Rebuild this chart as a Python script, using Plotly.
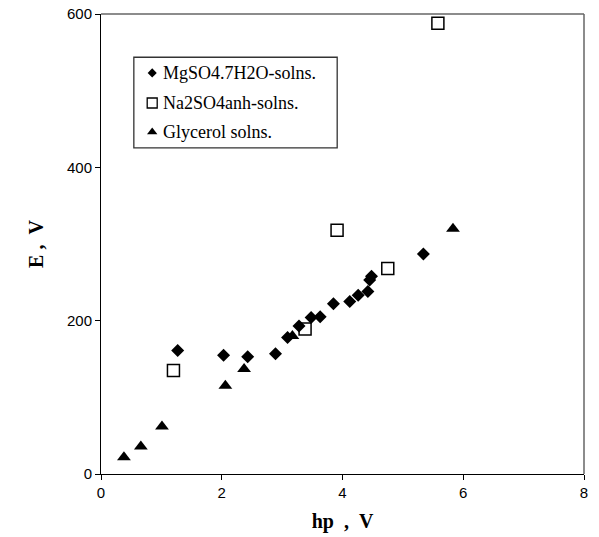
import plotly.graph_objects as go

# hp (V) and E (V) for each solution series
mg_hp = [1.27, 2.03, 2.43, 2.89, 3.09, 3.28, 3.48, 3.63, 3.85, 4.12, 4.26, 4.42, 4.45, 4.48, 5.34]
mg_e = [161, 155, 153, 157, 178, 193, 204, 205, 222, 225, 233, 238, 253, 258, 287]

na_hp = [1.20, 3.38, 3.91, 4.75, 5.58]
na_e = [135, 189, 318, 268, 588]

gly_hp = [0.38, 0.66, 1.01, 2.06, 2.37, 3.17, 5.83]
gly_e = [22, 36, 62, 115, 137, 180, 320]

series_names = ["MgSO4.7H2O-solns.", "Na2SO4anh-solns.", "Glycerol solns."]

x_ticks = [0, 2, 4, 6, 8]
y_ticks = [0, 200, 400, 600]

SERIF = "Liberation Serif, Times New Roman, serif"
SANS = "Liberation Sans, Arial, sans-serif"
NB = "\u00a0"

styles = [
    dict(symbol="diamond", size=10, color="black"),
    dict(symbol="square-open", size=12, color="black", line=dict(width=1.5, color="black")),
    dict(symbol="triangle-up", size=12, color="black"),
]
legend_styles = [
    dict(symbol="diamond", size=7, color="black"),
    dict(symbol="square-open", size=10, color="black", line=dict(width=1.3, color="black")),
    dict(symbol="triangle-up", size=9, color="black"),
]

fig = go.Figure()
for name, xs, ys, st in zip(series_names, [mg_hp, na_hp, gly_hp], [mg_e, na_e, gly_e], styles):
    fig.add_trace(go.Scatter(x=xs, y=ys, mode="markers", name=name,
                             marker=st, showlegend=False))

# boxed key drawn on an overlay axis spanning the plotting area (0..1 both ways)
key_x0, key_x1, key_y0, key_y1 = 0.068, 0.489, 0.709, 0.906
key_sym_x, key_text_x = 0.106, 0.124
key_rows = [0.872, 0.8065, 0.7435]
for name, row, st in zip(series_names, key_rows, legend_styles):
    fig.add_trace(go.Scatter(x=[key_sym_x], y=[row], mode="markers", marker=st,
                             xaxis="x2", yaxis="y2", showlegend=False, hoverinfo="skip"))
    fig.add_annotation(x=key_text_x, y=row, xref="x2", yref="y2", text=name,
                       showarrow=False, xanchor="left", yanchor="middle",
                       font=dict(family=SERIF, size=18, color="black"))
fig.add_shape(type="rect", xref="x2", yref="y2", x0=key_x0, x1=key_x1, y0=key_y0, y1=key_y1,
              line=dict(color="#333333", width=1.3), layer="below")

axis_common = dict(
    showgrid=False, zeroline=False, showline=True, linecolor="black", linewidth=1,
    ticks="outside", ticklen=5, tickcolor="black", tickwidth=1, automargin=False,
    tickfont=dict(family=SANS, size=15, color="black"),
)

fig.update_layout(
    width=599, height=537,
    margin=dict(l=101, r=15, t=14, b=63),
    paper_bgcolor="white", plot_bgcolor="white",
    showlegend=False,
    xaxis=dict(
        range=[0, 8], tickvals=x_ticks,
        title=dict(text=f"<b>hp{NB}{NB},{NB}{NB}V</b>", standoff=13,
                   font=dict(family=SERIF, size=20, color="black")),
        **axis_common,
    ),
    yaxis=dict(
        range=[0, 600], tickvals=y_ticks,
        title=dict(text=f"<b>E{NB},{NB}{NB}V</b>", standoff=17,
                   font=dict(family=SERIF, size=20, color="black")),
        **axis_common,
    ),
    xaxis2=dict(overlaying="x", range=[0, 1], visible=False, fixedrange=True),
    yaxis2=dict(overlaying="y", range=[0, 1], visible=False, fixedrange=True),
)

# grey frame along the top and right of the plotting area
fig.add_shape(type="line", xref="paper", yref="paper", x0=0, x1=1, y0=1, y1=1,
              line=dict(color="#666666", width=1.5))
fig.add_shape(type="line", xref="paper", yref="paper", x0=1, x1=1, y0=0, y1=1,
              line=dict(color="#666666", width=1.5))

fig.write_html("out.html")
